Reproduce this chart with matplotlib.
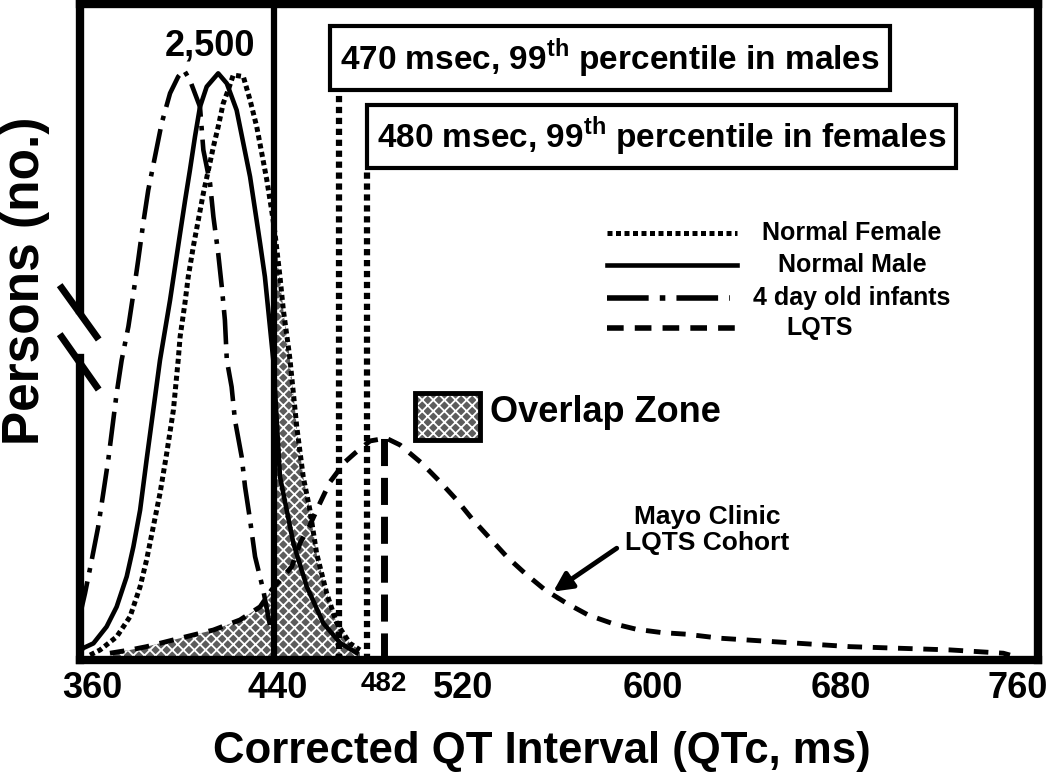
import matplotlib
matplotlib.use("Agg")
import matplotlib.pyplot as plt
import matplotlib.transforms as mtransforms
from matplotlib.patches import Rectangle
import numpy as np

plt.rcParams['font.family'] = ['Liberation Sans', 'DejaVu Sans']
plt.rcParams['font.weight'] = 'bold'
plt.rcParams['mathtext.fontset'] = 'custom'
plt.rcParams['mathtext.rm'] = 'Liberation Sans:bold'
plt.rcParams['mathtext.bf'] = 'Liberation Sans:bold'
plt.rcParams['hatch.linewidth'] = 1.3

#---------------------------------- data ----------------------------------
# QTc (ms) and persons (no.) along each schematic distribution
male_qtc = [360.0, 361.4, 365.6, 371.1, 375.3, 379.5, 382.3, 385.1, 387.8, 390.6, 393.4, 395.5,
            397.6, 399.7, 401.8, 403.9, 405.9, 408.0, 410.1, 412.9, 417.7, 421.3, 425.4, 428.2,
            431.0, 433.1, 435.2, 437.2, 438.6, 440.0, 440.7, 443.5, 449.1, 454.7, 461.6, 468.6, 475.5]
male_n = [34, 51, 71, 142, 227, 356, 484, 640, 854, 1067, 1280, 1408,
          1536, 1679, 1822, 1963, 2091, 2233, 2361, 2447, 2504, 2461, 2347, 2205,
          2063, 1921, 1778, 1636, 1494, 1352, 1280, 782, 498, 313, 157, 73, 30]

female_qtc = [364.2, 368.4, 375.3, 380.9, 385.1, 387.8, 390.6, 393.4, 396.2, 399.0, 401.0, 401.8,
              403.8, 405.2, 407.3, 409.4, 411.5, 413.6, 415.7, 417.7, 419.8, 421.9, 424.0, 428.2,
              431.0, 433.8, 435.9, 438.0, 440.0, 441.4, 443.5, 444.9, 447.0, 447.7, 450.5, 453.2,
              456.0, 458.8, 463.0, 467.2, 472.7, 476.9]
female_n = [21, 43, 99, 185, 313, 427, 569, 711, 882, 1067, 1280, 1380,
            1522, 1636, 1764, 1878, 1992, 2091, 2191, 2276, 2376, 2433, 2497, 2490,
            2390, 2276, 2163, 2049, 1921, 1822, 1636, 1494, 1337, 1280, 996, 782,
            640, 455, 285, 157, 71, 43]

infant_qtc = [360.0, 362.1, 364.9, 367.6, 369.7, 371.8, 375.3, 377.4, 380.2, 382.3, 384.3, 386.4,
              388.5, 391.3, 394.1, 397.6, 401.0, 403.4, 405.9, 410.1, 411.5, 414.3, 415.7, 417.7,
              419.2, 420.5, 421.3, 423.3, 424.7, 427.5, 428.9, 431.0, 433.1, 436.5, 439.3]
infant_n = [192, 285, 427, 569, 711, 854, 1138, 1280, 1423, 1565, 1707, 1864,
            2006, 2148, 2291, 2419, 2490, 2518, 2475, 2361, 2177, 2035, 1892, 1736,
            1593, 1451, 1280, 1166, 1024, 868, 740, 598, 441, 299, 149]

lqts_qtc = [372.5, 380.9, 387.8, 401.8, 415.7, 426.8, 435.2, 440.0, 448.4, 451.9, 456.0, 460.2,
            464.4, 470.6, 474.8, 481.1, 487.8, 493.6, 497.8, 502.7, 510.3, 517.3, 523.5, 531.2,
            538.2, 545.8, 554.2, 563.2, 572.2, 582.0, 592.4, 602.9, 613.3, 627.2, 645.3, 660.6,
            681.5, 702.4, 723.3, 745.5, 748.3]
lqts_n = [29, 43, 57, 93, 128, 171, 227, 299, 398, 499, 576, 670,
          760, 845, 883, 935, 947, 918, 882, 840, 761, 683, 605, 519,
          441, 370, 299, 242, 192, 157, 131, 117, 110, 93, 81, 71,
          57, 50, 43, 29, 21]

# cut-off lines (positions as drawn in the schematic)
qtc_440 = 441
male_99 = 468
female_99 = 480
lqts_cut = 487

tick_values = [360, 440, 520, 600, 680, 760]
tick_labels = ['360', '440', '520', '600', '680', '760']
lqts_cut_label = '482'

legend_names = ['Normal Female', 'Normal Male', '4 day old infants', 'LQTS']

#-------------------------------------------- figure --------------------------------------------
fig = plt.figure(figsize=(10.5, 7.8), dpi=100)
ax = fig.add_axes([80/1050, 1-660/780, 958/1050, 656/780])
ax.set_xlim(360, 760)
ax.set_ylim(0, 2800)

# overlap zone: LQTS tail below 440, normal females above it
lq = np.array(lqts_qtc); lqn = np.array(lqts_n)
fe = np.array(female_qtc); fen = np.array(female_n)
ov_x = np.concatenate([lq[lq <= 440], [qtc_440], fe[fe >= qtc_440]])
ov_y = np.concatenate([lqn[lq <= 440], [1880], fen[fe >= qtc_440]])
ax.fill_between(ov_x, 0, ov_y, facecolor='#5c5c5c', edgecolor='none', zorder=1)
ax.fill_between(ov_x, 0, ov_y, facecolor='none', edgecolor='white', hatch='xxx', lw=0, zorder=1)

ax.plot(female_qtc, female_n, color='black', lw=3.6, ls=(0, (1, 0.7)), zorder=3)
ax.plot(male_qtc, male_n, color='black', lw=3.3, ls='-', zorder=3)
ax.plot(infant_qtc, infant_n, color='black', lw=3.3, ls=(0, (7.5, 2, 1, 2)), zorder=3)
ax.plot(lqts_qtc, lqts_n, color='black', lw=3.5, ls=(0, (3, 2.2)), zorder=3)

# cut-off lines
ax.plot([qtc_440, qtc_440], [0, 2800], color='black', lw=4.5, zorder=4)
ax.plot([male_99, male_99], [0, 2690], color='black', lw=4.5, ls=(0, (1, 0.75)), zorder=3)
ax.plot([female_99, female_99], [0, 2090], color='black', lw=4.5, ls=(0, (1, 0.75)), zorder=3)
ax.plot([lqts_cut, lqts_cut], [0, 947], color='black', lw=5, ls=(0, (3.9, 1.7)), zorder=3)

# spines with break on the y axis
for s in ['top', 'right', 'bottom']:
    ax.spines[s].set_linewidth(6)
ax.spines['left'].set_visible(False)
ax.plot([0, 0], [0, 0.4604], transform=ax.transAxes, color='black', lw=6,
        clip_on=False, solid_capstyle='projecting')
ax.plot([0, 0], [0.5335, 1], transform=ax.transAxes, color='black', lw=6,
        clip_on=False, solid_capstyle='projecting')
ax.plot([-0.0191, 0.0174], [0.5671, 0.4929], transform=ax.transAxes, color='black',
        lw=5, clip_on=False)
ax.plot([-0.0191, 0.0174], [0.4924, 0.4166], transform=ax.transAxes, color='black',
        lw=5, clip_on=False)

# ticks
ax.set_yticks([])
ax.set_xticks(tick_values + [lqts_cut], labels=tick_labels + [lqts_cut_label])
ax.tick_params(axis='x', length=0, pad=8, labelsize=26)
shifts = [12, 6, 0, -2, -6, -20, 0]
for lab, dx in zip(ax.get_xticklabels(), shifts):
    lab.set_transform(lab.get_transform() + mtransforms.ScaledTranslation(dx/100, 0, fig.dpi_scale_trans))
ax.get_xticklabels()[-1].set_fontsize(20)

ax.set_xlabel('Corrected QT Interval (QTc, ms)', fontsize=31.5, fontweight='bold')
ax.xaxis.set_label_coords((542-80)/958, (660-752)/656)
ax.xaxis.label.set_va('center')
ax.set_ylabel('Persons (no.)', fontsize=37, fontweight='bold')
ax.yaxis.set_label_coords(-0.0574, 0.578)
ax.yaxis.label.set_va('center')

ax.text(0.136, 0.936, '2,500', transform=ax.transAxes, ha='center', va='center', fontsize=26)

box = dict(boxstyle='square,pad=0.3', fc='white', ec='black', lw=3)
ax.text(0.553, 0.918, r'470 msec, 99$^{\mathrm{th}}$ percentile in males', transform=ax.transAxes,
        ha='center', va='center', fontsize=24, bbox=box, zorder=6)
ax.text(0.607, 0.798, r'480 msec, 99$^{\mathrm{th}}$ percentile in females', transform=ax.transAxes,
        ha='center', va='center', fontsize=24, bbox=box, zorder=6)

# legend
styles = [dict(lw=3.6, ls=(0, (1, 0.7))), dict(lw=3.3, ls='-'),
          dict(lw=4, ls=(0, (7.5, 2, 1, 2))), dict(lw=4, ls=(0, (3, 2)))]
ly = [0.651, 0.602, 0.552, 0.506]
lx_end = [0.686, 0.686, 0.678, 0.694]
tx = [0.806, 0.806, 0.806, 0.772]
for name, st, y, xe, t in zip(legend_names, styles, ly, lx_end, tx):
    ax.plot([0.550, xe], [y, y], transform=ax.transAxes, color='black', **st)
    ax.text(t, y, name, transform=ax.transAxes, ha='center', va='center', fontsize=18)

# overlap zone key
kx, ky, kw, kh = (415-80)/958, (660-440)/656, 65/958, 47/656
ax.add_patch(Rectangle((kx, ky), kw, kh, transform=ax.transAxes, facecolor='#5c5c5c',
                       edgecolor='none', zorder=5))
ax.add_patch(Rectangle((kx, ky), kw, kh, transform=ax.transAxes, facecolor='none',
                       edgecolor='white', hatch='xxx', lw=0, zorder=5))
ax.add_patch(Rectangle((kx, ky), kw, kh, transform=ax.transAxes, facecolor='none',
                       edgecolor='black', lw=3.5, zorder=6))
ax.text((490-80)/958, (660-413)/656, 'Overlap Zone', transform=ax.transAxes,
        ha='left', va='center', fontsize=26)

ax.text(622, 555, 'Mayo Clinic\nLQTS Cohort', ha='center', va='center', fontsize=19,
        linespacing=1.15)
ax.annotate('', xy=(557.6, 292), xytext=(584.1, 477),
            arrowprops=dict(arrowstyle='-|>', lw=3.5, color='black', mutation_scale=28,
                            shrinkA=0, shrinkB=0))

fig.savefig('out.png', dpi=100)
